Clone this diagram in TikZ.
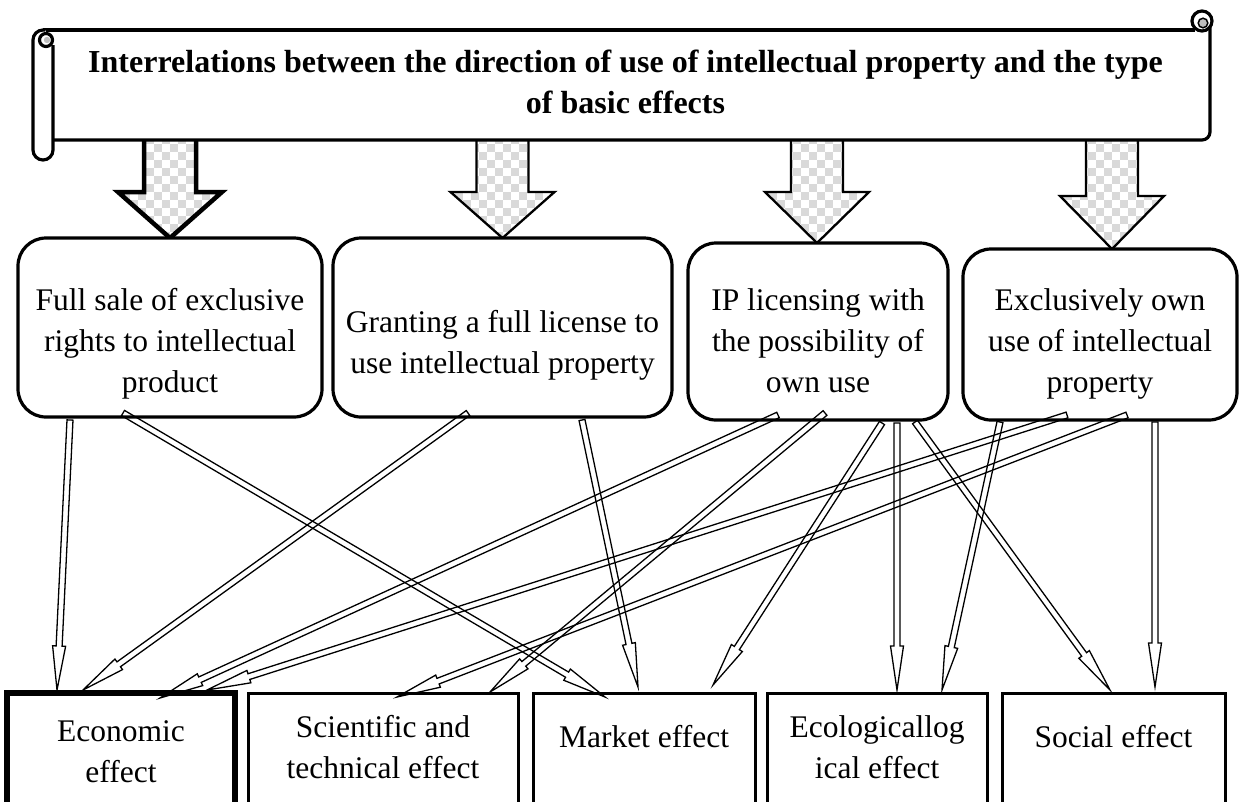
\documentclass[tikz,border=0pt]{standalone}
\usepackage{fontspec}
\setmainfont{Liberation Serif}
\usetikzlibrary{calc}

\definecolor{checkgray}{RGB}{217,217,217}
\definecolor{curlgray}{RGB}{190,190,190}

\tikzset{
  scrollline/.style={line width=3.2pt, line join=round},
  topbox/.style={draw, line width=3.2pt, rounded corners=28pt, inner sep=0pt, outer sep=0pt, fill=white},
  effectbox/.style={draw, line width=3pt, inner sep=0pt, outer sep=0pt, minimum height=157pt, fill=white},
  boxtext/.style={align=center, inner sep=0pt, font=\fontsize{31.5}{41}\selectfont},
  titletext/.style={align=center, inner sep=0pt, font=\fontsize{32}{41}\selectfont\bfseries},
  connector/.style={line width=1.3pt, line join=miter},
}

% hollow double-line arrow from #1 to #2
\newcommand\hollowarrow[2]{%
  \coordinate (hb) at ($(#2)!44pt!(#1)$);
  \draw[connector] ($(#1)!3pt!90:(#2)$) -- ($(hb)!3pt!90:(#2)$) -- ($(hb)!6.5pt!90:(#2)$)
    -- (#2) -- ($(hb)!6.5pt!-90:(#2)$) -- ($(hb)!3pt!-90:(#2)$) -- ($(#1)!3pt!-90:(#2)$) -- cycle;
}

% checkered block arrow: #1 line width, #2 tip x, #3 tip y, #4 shoulder y
\newcommand\blockarrow[4]{%
  \begin{scope}
    \clip (#2-26,140) -- (#2-26,#4) -- (#2-52,#4) -- (#2,#3) -- (#2+52,#4) -- (#2+26,#4) -- (#2+26,140) -- cycle;
    \foreach \cx in {0,16,...,112} \foreach \cy in {136,152,...,256} {
      \fill[checkgray] (#2-56+\cx,\cy) rectangle ++(8,8);
      \fill[checkgray] (#2-48+\cx,\cy+8) rectangle ++(8,8);
    }
  \end{scope}
  \draw[line width=#1, line join=miter] (#2-26,140) -- (#2-26,#4) -- (#2-52,#4) -- (#2,#3)
    -- (#2+52,#4) -- (#2+26,#4) -- (#2+26,140);
}

\begin{document}
\begin{tikzpicture}[x=1pt,y=-1pt]
\useasboundingbox (0,0) rectangle (1240,801);
\clip (0,0) rectangle (1240,801);

% block arrows from the scroll down to the four directions
\blockarrow{4.5pt}{170}{238}{192}
\blockarrow{2.3pt}{502.5}{238}{192}
\blockarrow{2.3pt}{817}{243}{192}
\blockarrow{2.3pt}{1112}{249}{196}

% scroll banner
\fill[white] (43,30) rectangle (1210,140);
\draw[scrollline] (43,30) -- (1195,30);
\draw[scrollline, rounded corners=8pt] (1210,22) -- (1210,140) -- (53,140);
\draw[scrollline, fill=white] (1202,21) circle (10);
\draw[line width=1.5pt, fill=curlgray] (1203,23) circle (4.8);
\draw[scrollline, fill=white] (53,45) -- (53,150) arc (0:180:10) -- (33,40) arc (180:270:10) -- (45,30);
\draw[scrollline, fill=white] (46,40) circle (6.5);
\fill[curlgray] (47,40) circle (3.2);

\node[titletext] (title) at (625.5,81.6)
  {Interrelations between the direction of use of intellectual property and the type\\of basic effects};

% directions of use
\node[topbox, minimum width=304pt, minimum height=179pt] (t1) at (170,327.5) {};
\node[topbox, minimum width=339pt, minimum height=179pt] (t2) at (502.5,327.5) {};
\node[topbox, minimum width=260pt, minimum height=177pt] (t3) at (818,331.5) {};
\node[topbox, minimum width=274pt, minimum height=171pt] (t4) at (1100,334.5) {};
\node[boxtext] (t1text) at (170,344) {Full sale of exclusive\\rights to intellectual\\product};
\node[boxtext] (t2text) at (502.5,345) {Granting a full license to\\use intellectual property};
\node[boxtext] (t3text) at (818,341) {IP licensing with\\the possibility of\\own use};
\node[boxtext] (t4text) at (1100,344) {Exclusively own\\use of intellectual\\property};

% basic effects
\node[effectbox, line width=5.5pt, minimum width=228pt] (b1) at (121,771.5) {};
\node[effectbox, minimum width=270pt] (b2) at (383,771.5) {};
\node[effectbox, minimum width=222pt] (b3) at (644,771.5) {};
\node[effectbox, minimum width=220pt] (b4) at (877,771.5) {};
\node[effectbox, minimum width=223pt] (b5) at (1113.5,771.5) {};
\node[boxtext] (b1text) at (121,752) {Economic\\effect};
\node[boxtext] (b2text) at (383,747) {Scientific and\\technical effect};
\node[boxtext] (b3text) at (644,736.5) {Market effect};
\node[boxtext] (b4text) at (877,747) {Ecologicallog\\ical effect};
\node[boxtext] (b5text) at (1113.5,736.5) {Social effect};

% connector ends on the boxes
\coordinate (t1o1) at ([xshift=52pt, yshift=-3pt]t1.south west);
\coordinate (t1o2) at ([xshift=105pt, yshift=4pt]t1.south west);
\coordinate (t2o1) at ([xshift=135pt, yshift=4pt]t2.south west);
\coordinate (t2o2) at ([xshift=249pt, yshift=-3pt]t2.south west);
\coordinate (t3o1) at ([xshift=90pt, yshift=5pt]t3.south west);
\coordinate (t3o2) at ([xshift=137pt, yshift=7pt]t3.south west);
\coordinate (t3o3) at ([xshift=194pt, yshift=-3pt]t3.south west);
\coordinate (t3o4) at ([xshift=209pt, yshift=-3pt]t3.south west);
\coordinate (t3o5) at ([xshift=227pt, yshift=-2pt]t3.south west);
\coordinate (t4o1) at ([xshift=37pt, yshift=-2pt]t4.south west);
\coordinate (t4o2) at ([xshift=104pt, yshift=5pt]t4.south west);
\coordinate (t4o3) at ([xshift=164pt, yshift=5pt]t4.south west);
\coordinate (t4o4) at ([xshift=192pt, yshift=-2pt]t4.south west);

\coordinate (b1i1) at ([xshift=50pt, yshift=3pt]b1.north west);
\coordinate (b1i2) at ([xshift=76pt, yshift=3pt]b1.north west);
\coordinate (b1i3) at ([xshift=153pt, yshift=-5pt]b1.north west);
\coordinate (b1i4) at ([xshift=200pt, yshift=3pt]b1.north west);
\coordinate (b2i1) at ([xshift=149pt, yshift=-4pt]b2.north west);
\coordinate (b2i2) at ([xshift=242pt, yshift=1pt]b2.north west);
\coordinate (b3i1) at ([xshift=72pt, yshift=-4pt]b3.north west);
\coordinate (b3i2) at ([xshift=105pt, yshift=6pt]b3.north west);
\coordinate (b3i3) at ([xshift=180pt, yshift=8pt]b3.north west);
\coordinate (b4i1) at ([xshift=130pt, yshift=3pt]b4.north west);
\coordinate (b4i2) at ([xshift=175pt, yshift=3pt]b4.north west);
\coordinate (b5i1) at ([xshift=108pt, yshift=3pt]b5.north west);
\coordinate (b5i2) at ([xshift=153pt, yshift=6pt]b5.north west);

% links between directions and effects
\hollowarrow{t1o1}{b1i1}
\hollowarrow{t1o2}{b3i1}
\hollowarrow{t2o1}{b1i2}
\hollowarrow{t2o2}{b3i2}
\hollowarrow{t3o1}{b1i3}
\hollowarrow{t3o2}{b2i2}
\hollowarrow{t3o3}{b3i3}
\hollowarrow{t3o4}{b4i1}
\hollowarrow{t3o5}{b5i1}
\hollowarrow{t4o1}{b4i2}
\hollowarrow{t4o2}{b1i4}
\hollowarrow{t4o3}{b2i1}
\hollowarrow{t4o4}{b5i2}
\end{tikzpicture}
\end{document}
